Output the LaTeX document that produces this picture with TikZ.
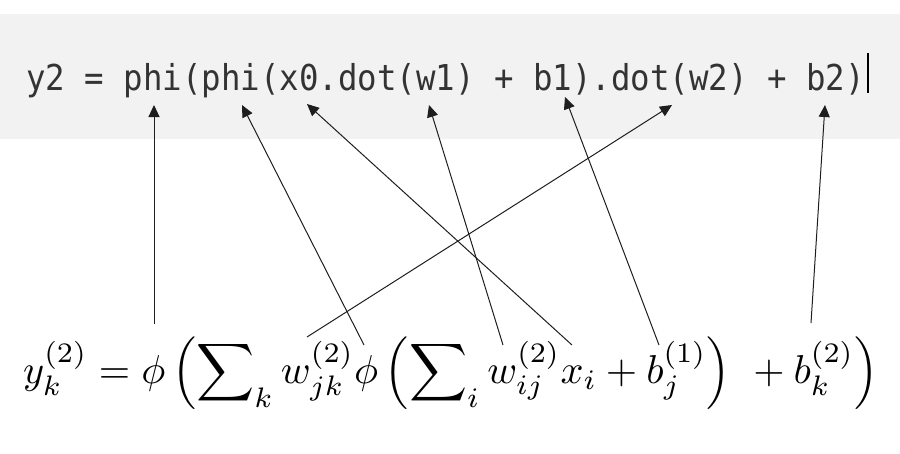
\documentclass[tikz,border=0pt]{standalone}
\usepackage{amsmath}
\usepackage{graphicx}
\usepackage{fontspec}
\setmonofont{DejaVu Sans Mono}
\usepackage{tikz}
\usetikzlibrary{arrows.meta,positioning}
\definecolor{cdbg}{RGB}{242,242,242}
\definecolor{cdink}{RGB}{51,51,51}
\definecolor{arink}{RGB}{30,30,30}
\tikzset{
  band/.style={fill=cdbg, draw=none},
  codeline/.style={
    inner sep=0pt, anchor=base west, text=cdink,
    font=\fontsize{32.4}{38}\selectfont\ttfamily
  },
  eqline/.style={inner sep=0pt, anchor=base west},
  arr/.style={-{Triangle[length=12pt,width=11pt]}, draw=arink, line width=1pt},
  cursor/.style={draw=black, line width=1.5pt}
}
\begin{document}
\begin{tikzpicture}[x=1pt, y=-1pt]
  \useasboundingbox (0,0) rectangle (900,453);
  \fill[band] (0,14) rectangle (900,139);

  \node[codeline] (code) at (26,90)
    {\scalebox{1}[1.1]{y2 = phi(phi(x0.dot(w1) + b1).dot(w2) + b2)}};
  \coordinate (cura) at (868,53);
  \coordinate (curb) at (868,93);
  \draw[cursor] (cura) -- (curb);

  \node[eqline] (eq) at (23,383)
    {\resizebox{855pt}{!}{$\displaystyle y_k^{(2)} = \phi\left(\sum\nolimits_k w_{jk}^{(2)}\phi\left(\sum\nolimits_i w_{ij}^{(2)} x_i + b_j^{(1)}\right)\ + b_k^{(2)}\right)$}};

  % targets in the code line
  \coordinate (phiA) at (154,105);
  \coordinate (phiB) at (242,105);
  \coordinate (xz)   at (307,104);
  \coordinate (wone) at (429,105);
  \coordinate (bone) at (565,97);
  \coordinate (wtwo) at (672,105);
  \coordinate (btwo) at (825,105);

  % sources in the formula
  \coordinate (yk)  at (154,324);
  \coordinate (phm) at (364,345);
  \coordinate (xi)  at (572,345);
  \coordinate (wij) at (503,345);
  \coordinate (bj)  at (659,345);
  \coordinate (wjk) at (307,337);
  \coordinate (bk)  at (811,323);

  \draw[arr] (yk) -- (phiA);
  \draw[arr] (phm) -- (phiB);
  \draw[arr] (xi) -- (xz);
  \draw[arr] (wij) -- (wone);
  \draw[arr] (bj) -- (bone);
  \draw[arr] (wjk) -- (wtwo);
  \draw[arr] (bk) -- (btwo);
\end{tikzpicture}
\end{document}
